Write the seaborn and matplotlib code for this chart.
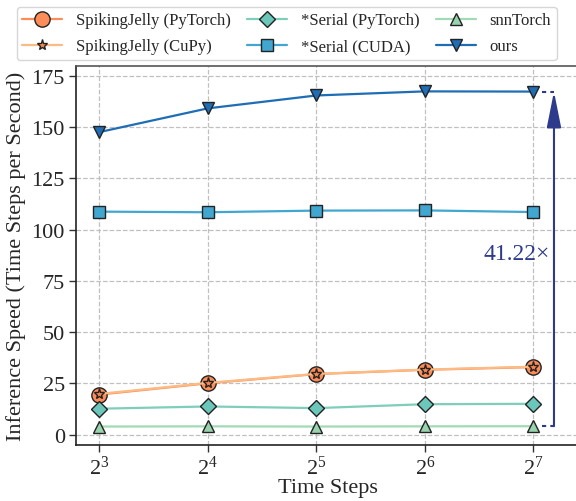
import numpy as np
import pandas as pd
import seaborn as sns
import matplotlib.pyplot as plt

# values
time_steps = [8, 16, 32, 64, 128]
sj_torch = [19.5, 25.0, 29.5, 31.6, 32.9]
sj_cupy = [19.8, 25.2, 29.6, 31.7, 33.1]
serial_torch = [12.6, 13.7, 12.9, 14.8, 15.0]
serial_cuda = [108.8, 108.5, 109.3, 109.4, 108.6]
snn_torch = [3.9, 4.0, 3.9, 4.0, 4.06]
ours = [147.6, 159.2, 165.5, 167.5, 167.4]
speedup_label = "41.22\u00d7"

sns.set_theme(style="whitegrid")
plt.rcParams["font.family"] = ["Liberation Serif", "DejaVu Serif"]
plt.rcParams["mathtext.fontset"] = "stix"

fig = plt.figure(figsize=(5.76, 5.02), dpi=100)
ax = fig.add_axes([0.132, 0.112, 0.875, 0.755])

series = [
    ("SpikingJelly (PyTorch)", sj_torch, "#fc8d59", "o", 11, "#fc8d59"),
    ("SpikingJelly (CuPy)", sj_cupy, "#fdbb84", "*", 8, "#f4884f"),
    ("*Serial (PyTorch)", serial_torch, "#7fcdbb", "D", 8, "#6cc7bb"),
    ("*Serial (CUDA)", serial_cuda, "#41a6d0", "s", 8, "#41a6d0"),
    ("snnTorch", snn_torch, "#a1dab4", "^", 8, "#99d3ad"),
    ("ours", ours, "#1f6db5", "v", 9, "#1f6db5"),
]

for name, vals, col, mk, ms, mfc in series:
    df = pd.DataFrame({"T": time_steps, "speed": vals})
    sns.lineplot(data=df, x="T", y="speed", ax=ax, color=col, lw=1.6,
                 marker=mk, markersize=ms, markerfacecolor=mfc,
                 markeredgecolor="#222222", markeredgewidth=1.0,
                 label=name, legend=False, zorder=3)

ax.set_xscale("log", base=2)
ax.set_xticks(time_steps)
ax.minorticks_off()
ax.set_xlim(2 ** 2.787, 2 ** 7.43)
ax.set_ylim(-5, 180)
ax.set_yticks([0, 25, 50, 75, 100, 125, 150, 175])

ax.grid(True, ls="--", color="#c0c0c0", lw=0.9)
for s in ["left", "bottom"]:
    ax.spines[s].set_color("#222222")
    ax.spines[s].set_linewidth(1.2)
ax.spines["top"].set_color("#555555")
ax.spines["top"].set_linewidth(1.2)
ax.spines["right"].set_visible(False)
ax.tick_params(axis="both", labelsize=16, length=5, width=1.0,
               color="#333333", direction="out", left=True, bottom=True, pad=3)

ax.set_xlabel("Time Steps", fontsize=16, labelpad=-1)
ax.set_ylabel("Inference Speed (Time Steps per Second)", fontsize=16)

# speedup annotation
navy = "#2e3a8c"
x_arrow = 2 ** 7.19
ax.plot([time_steps[-1] * 1.06, x_arrow], [ours[-1], ours[-1]], ls=(0, (2, 2)),
        color=navy, lw=1.5, zorder=2)
ax.plot([time_steps[-1] * 1.06, x_arrow], [snn_torch[-1], snn_torch[-1]], ls=(0, (2, 2)),
        color=navy, lw=1.5, zorder=2)
ax.annotate("", xy=(x_arrow, ours[-1]), xytext=(x_arrow, snn_torch[-1]),
            arrowprops=dict(arrowstyle="-|>,head_length=1.0,head_width=0.2",
                            color=navy, lw=1.5, mutation_scale=22,
                            shrinkA=0, shrinkB=0))
ax.text(2 ** 7.15, 88.5, speedup_label, color=navy, fontsize=17,
        ha="right", va="center")

handles, labels = ax.get_legend_handles_labels()
fig.legend(handles, labels, loc="upper left", bbox_to_anchor=(0.02, 0.995),
           ncol=3, fontsize=12, frameon=True, edgecolor="#cccccc",
           handlelength=2.4, handletextpad=0.8, columnspacing=1.0,
           labelspacing=0.6, borderpad=0.35, borderaxespad=0.3)

fig.savefig("out.png", dpi=100)
